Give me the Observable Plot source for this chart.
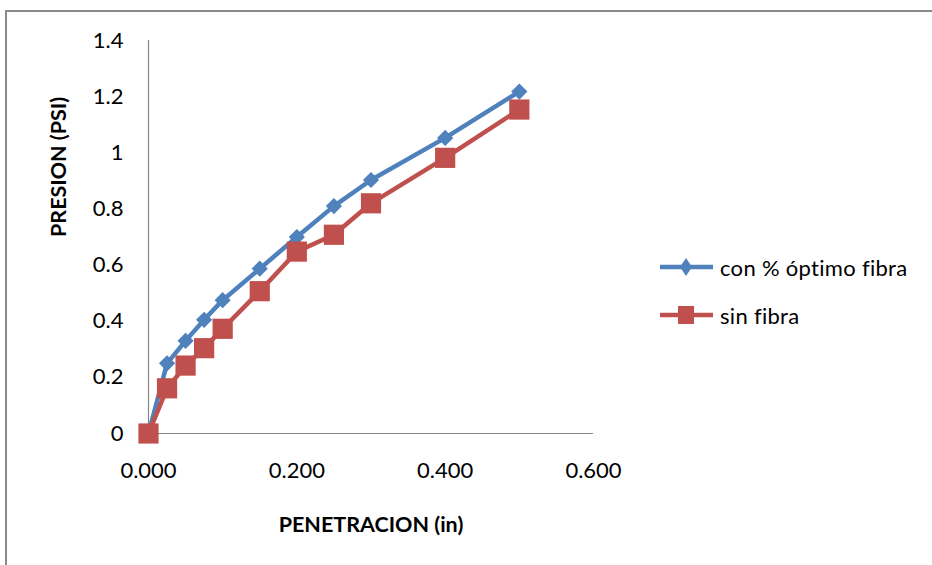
<!DOCTYPE html>
<html>
<head>
<meta charset="utf-8">
<script src="https://cdn.jsdelivr.net/npm/d3@7"></script>
<script src="https://cdn.jsdelivr.net/npm/@observablehq/plot@0.6"></script>
<style>
  html, body { margin: 0; padding: 0; background: #fff; overflow: hidden; }
  #wrap { position: relative; width: 932px; height: 565px; overflow: hidden; font-family: Lato, "Open Sans", sans-serif; }
  #frame { position: absolute; left: 5px; top: 10px; width: 2000px; height: 2000px; border: 2px solid #8a8a8a; box-sizing: border-box; }
  #chart { position: absolute; left: 0; top: 0; }
  #legend { position: absolute; left: 658px; top: 243px; font-size: 22px; color: #000; letter-spacing: 0.3px; }
  .item { display: flex; align-items: center; height: 48px; }
  .item svg { margin-right: 6px; }
</style>
</head>
<body>
<div id="wrap">
  <div id="frame"></div>
  <div id="chart"></div>
  <div id="legend"></div>
</div>
<script>
const penetracion = [0, 0.025, 0.05, 0.075, 0.1, 0.15, 0.2, 0.25, 0.3, 0.4, 0.5];
const conFibra = [0, 0.25, 0.33, 0.405, 0.475, 0.587, 0.70, 0.81, 0.903, 1.053, 1.218];
const sinFibra = [0, 0.161, 0.242, 0.304, 0.373, 0.507, 0.648, 0.708, 0.820, 0.982, 1.154];
const seriesNames = ["con % óptimo fibra", "sin fibra"];
const xTicks = [0, 0.2, 0.4, 0.6];
const yTicks = [0, 0.2, 0.4, 0.6, 0.8, 1, 1.2, 1.4];
const xTitle = "PENETRACION (in)";
const yTitle = "PRESION (PSI)";

const blue = "#4F81BD", red = "#C0504D", axisGray = "#868686";

const dataA = penetracion.map((x, i) => ({x, y: conFibra[i]}));
const dataB = penetracion.map((x, i) => ({x, y: sinFibra[i]}));

const chart = Plot.plot({
  width: 932,
  height: 565,
  marginLeft: 148,
  marginRight: 339,
  marginTop: 40,
  marginBottom: 132,
  style: {fontFamily: "Lato, 'Open Sans', sans-serif", fontSize: "22px", color: "#000", background: "transparent", overflow: "visible"},
  x: {domain: [0, 0.6]},
  y: {domain: [0, 1.4]},
  marks: [
    Plot.axisX(xTicks, {tickSize: 0, tickPadding: 29, tickFormat: d3.format(".3f"), label: null, fontSize: 22}),
    Plot.axisY(yTicks, {tickSize: 0, tickPadding: 25, tickFormat: d => String(d), label: null, fontSize: 22}),
    Plot.ruleX([0], {stroke: axisGray, strokeWidth: 1.2}),
    Plot.ruleY([0], {stroke: axisGray, strokeWidth: 1.2}),
    Plot.line(dataA, {x: "x", y: "y", stroke: blue, strokeWidth: 4.5}),
    Plot.dot(dataA, {x: "x", y: "y", symbol: "diamond2", r: 7.3, fill: blue, stroke: "none"}),
    Plot.line(dataB, {x: "x", y: "y", stroke: red, strokeWidth: 4.5}),
    Plot.dot(dataB, {x: "x", y: "y", symbol: "square", r: 11.4, fill: red, stroke: "none"}),
    Plot.text([xTitle], {frameAnchor: "bottom", dy: 92, lineAnchor: "middle", fontWeight: "bold", fontSize: 21.5, fill: "#000"}),
    Plot.text([yTitle], {frameAnchor: "left", dx: -89, rotate: -90, lineAnchor: "middle", fontWeight: "bold", fontSize: 21.5, fill: "#000"})
  ]
});
document.getElementById("chart").appendChild(chart);

// legend
const legend = document.getElementById("legend");
const items = [
  {name: seriesNames[0], color: blue, shape: "diamond"},
  {name: seriesNames[1], color: red, shape: "square"}
];
for (const it of items) {
  const div = document.createElement("div");
  div.className = "item";
  const marker = it.shape === "diamond"
    ? `<polygon points="28,3 34,12 28,21 22,12" fill="${it.color}"/>`
    : `<rect x="20" y="3" width="16" height="18" fill="${it.color}"/>`;
  div.innerHTML = `<svg width="56" height="24"><line x1="2" x2="55" y1="12" y2="12" stroke="${it.color}" stroke-width="4.5"/>${marker}</svg><span>${it.name}</span>`;
  legend.appendChild(div);
}
</script>
</body>
</html>
